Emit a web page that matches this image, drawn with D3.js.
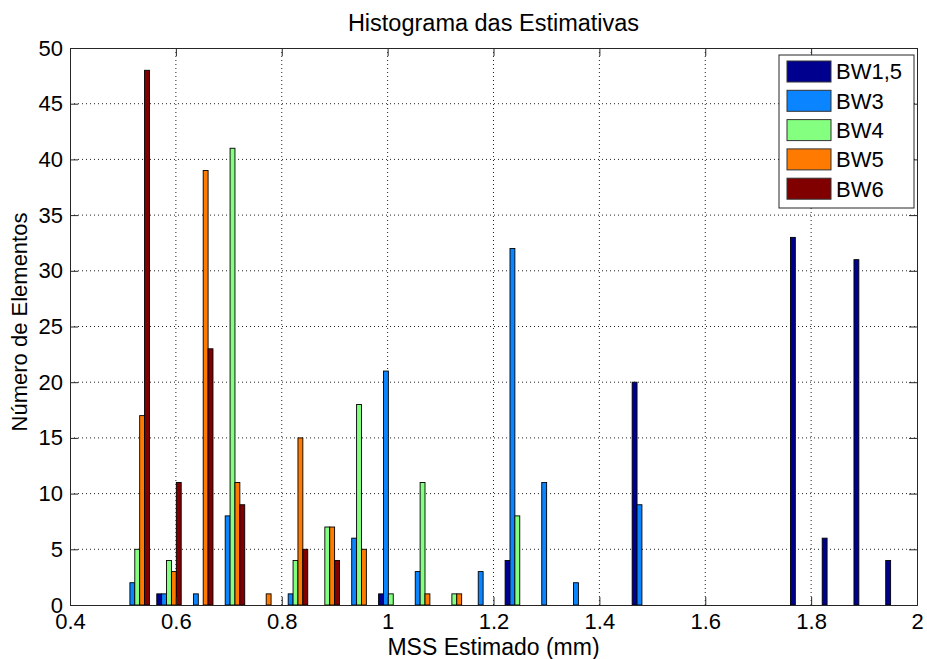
<!DOCTYPE html>
<html>
<head>
<meta charset="utf-8">
<script src="https://cdn.jsdelivr.net/npm/d3@7"></script>
<style>
  html, body { margin: 0; padding: 0; background: #fff; }
  svg { display: block; }
  text { font-family: Arial, "Liberation Sans", Helvetica, sans-serif; fill: #000; }
</style>
</head>
<body>
<script>
// ---- data ----
const seriesNames = ["BW1,5", "BW3", "BW4", "BW5", "BW6"];
const seriesColors = ["#00008F", "#0A85FF", "#85FF80", "#FF7A00", "#800000"];
const binCenters = [0.527, 0.587, 0.647, 0.707, 0.766, 0.826, 0.886, 0.946, 1.006, 1.066,
                    1.126, 1.185, 1.245, 1.305, 1.365, 1.425, 1.485, 1.545, 1.604, 1.664,
                    1.724, 1.784, 1.844, 1.904, 1.964];
const bw15 = [0, 1, 0, 0, 0, 0, 0, 0, 1, 0, 0, 0, 4, 0, 0, 0, 20, 0, 0, 0, 0, 33, 6, 31, 4];
const bw3  = [2, 1, 1, 8, 0, 1, 0, 6, 21, 3, 0, 3, 32, 11, 2, 0, 9, 0, 0, 0, 0, 0, 0, 0, 0];
const bw4  = [5, 4, 0, 41, 0, 4, 7, 18, 1, 11, 1, 0, 8, 0, 0, 0, 0, 0, 0, 0, 0, 0, 0, 0, 0];
const bw5  = [17, 3, 39, 11, 1, 15, 7, 5, 0, 1, 1, 0, 0, 0, 0, 0, 0, 0, 0, 0, 0, 0, 0, 0, 0];
const bw6  = [48, 11, 23, 9, 0, 5, 4, 0, 0, 0, 0, 0, 0, 0, 0, 0, 0, 0, 0, 0, 0, 0, 0, 0, 0];
const seriesValues = [bw15, bw3, bw4, bw5, bw6];
const xTicks = [0.4, 0.6, 0.8, 1.0, 1.2, 1.4, 1.6, 1.8, 2.0];
const xTickLabels = ["0.4", "0.6", "0.8", "1", "1.2", "1.4", "1.6", "1.8", "2"];
const yTicks = [0, 5, 10, 15, 20, 25, 30, 35, 40, 45, 50];
const titleText = "Histograma das Estimativas";
const xLabelText = "MSS Estimado (mm)";
const yLabelText = "Número de Elementos";

// ---- layout ----
const W = 927, H = 659;
const pL = 70, pR = 917, pT = 48, pB = 605;

const svg = d3.select("body").append("svg").attr("width", W).attr("height", H);
svg.append("rect").attr("width", W).attr("height", H).attr("fill", "#fff");

const x = d3.scaleLinear().domain([0.4, 2.0]).range([pL, pR]);
const y = d3.scaleLinear().domain([0, 50]).range([pB, pT]);

// grid
const grid = svg.append("g");
grid.selectAll("line.gx").data(xTicks.slice(1, -1)).join("line")
  .attr("x1", d => x(d)).attr("x2", d => x(d)).attr("y1", pT).attr("y2", pB)
  .attr("stroke", "#222").attr("stroke-width", 1).attr("stroke-dasharray", "1,3");
grid.selectAll("line.gy").data(yTicks.slice(1, -1)).join("line")
  .attr("x1", pL).attr("x2", pR).attr("y1", d => y(d)).attr("y2", d => y(d))
  .attr("stroke", "#222").attr("stroke-width", 1).attr("stroke-dasharray", "1,3");

// bars
const binStep = binCenters[1] - binCenters[0];
const nS = seriesNames.length;
const groupW = Math.min(0.8, nS / (nS + 1.5)) * binStep;
const barW = groupW / nS;
const barsData = [];
seriesValues.forEach((vals, si) => {
  vals.forEach((v, bi) => {
    if (v > 0) barsData.push({ si, c: binCenters[bi] + (si - (nS - 1) / 2) * barW, v });
  });
});
svg.append("g").selectAll("rect").data(barsData).join("rect")
  .attr("x", d => x(d.c - barW / 2))
  .attr("width", d => x(d.c + barW / 2) - x(d.c - barW / 2))
  .attr("y", d => y(d.v))
  .attr("height", d => y(0) - y(d.v))
  .attr("fill", d => seriesColors[d.si])
  .attr("stroke", "#000").attr("stroke-width", 0.9);

// axes (box with inward ticks)
const axG = svg.append("g");
const xAxisB = d3.axisBottom(x).tickValues(xTicks).tickSize(-8).tickFormat((d, i) => xTickLabels[i]).tickPadding(0);
const xAxisT = d3.axisTop(x).tickValues(xTicks).tickSize(-8).tickFormat("");
const yAxisL = d3.axisLeft(y).tickValues(yTicks).tickSize(-8).tickPadding(7);
const yAxisR = d3.axisRight(y).tickValues(yTicks).tickSize(-8).tickFormat("");

function styleAxis(g) {
  g.selectAll("path").attr("stroke", "#262626").attr("stroke-width", 1);
  g.selectAll("line").attr("stroke", "#262626").attr("stroke-width", 1);
  g.selectAll("text").attr("font-size", 22).attr("fill", "#000")
    .attr("font-family", "Arial, 'Liberation Sans', sans-serif");
}
const gxb = axG.append("g").attr("transform", `translate(0,${pB})`).call(xAxisB);
gxb.call(styleAxis);
gxb.selectAll("text").attr("y", 24).attr("dy", "0");
axG.append("g").attr("transform", `translate(0,${pT})`).call(xAxisT).call(styleAxis);
axG.append("g").attr("transform", `translate(${pL},0)`).call(yAxisL).call(styleAxis);
axG.append("g").attr("transform", `translate(${pR},0)`).call(yAxisR).call(styleAxis);

// legend
const lg = svg.append("g");
const lx = 779, ly = 55, lw = 135, lh = 153;
lg.append("rect").attr("x", lx).attr("y", ly).attr("width", lw).attr("height", lh)
  .attr("fill", "#fff").attr("stroke", "#262626").attr("stroke-width", 1);
const items = lg.selectAll("g.item").data(seriesNames).join("g")
  .attr("transform", (d, i) => `translate(0,${71.5 + i * 29.3})`);
items.append("rect").attr("x", 787).attr("y", -10.5).attr("width", 44).attr("height", 21)
  .attr("fill", (d, i) => seriesColors[i]).attr("stroke", "#333").attr("stroke-width", 1);
items.append("text").attr("x", 836).attr("y", 0).attr("dy", "0.36em")
  .attr("font-size", 22).text(d => d);

// titles
svg.append("text").attr("x", (pL + pR) / 2).attr("y", 31).attr("text-anchor", "middle")
  .attr("font-size", 23.5).text(titleText);
svg.append("text").attr("x", (pL + pR) / 2).attr("y", 655).attr("text-anchor", "middle")
  .attr("font-size", 23).text(xLabelText);
svg.append("text").attr("transform", `translate(27,322) rotate(-90)`)
  .attr("text-anchor", "middle").attr("font-size", 22).text(yLabelText);
</script>
</body>
</html>
